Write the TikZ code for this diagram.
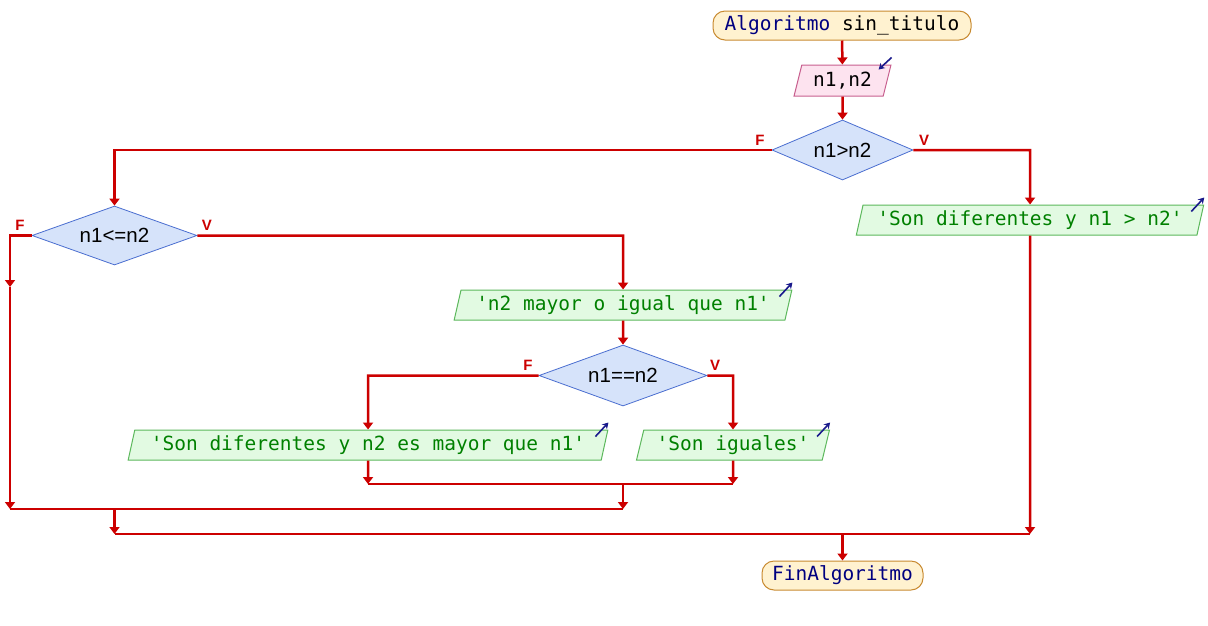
\documentclass[tikz,border=0pt]{standalone}
\usepackage{fontspec}
\usetikzlibrary{shapes.geometric,arrows.meta,calc}
\newfontfamily\codefont{DejaVu Sans Mono}
\newfontfamily\condfont{Liberation Sans}
\definecolor{flowred}{HTML}{CC0000}
\definecolor{kwblue}{HTML}{000080}
\definecolor{iconblue}{HTML}{1A1A8C}
\definecolor{outgreen}{HTML}{008000}
\definecolor{outfill}{HTML}{E2FAE2}
\definecolor{outline}{HTML}{5CB85C}
\definecolor{infill}{HTML}{FDE3EF}
\definecolor{inline}{HTML}{C8608F}
\definecolor{decfill}{HTML}{D6E3FA}
\definecolor{decline}{HTML}{4A6ED0}
\definecolor{termfill}{HTML}{FFF2D0}
\definecolor{termline}{HTML}{C88A30}
\tikzset{
  terminal/.style={draw=termline, fill=termfill, line width=1pt, rounded corners=12pt,
    inner sep=0pt, font=\codefont\fontsize{19.5}{20}\selectfont},
  iobox/.style={trapezium, trapezium stretches=true, trapezium left angle=72,
    trapezium right angle=108, line width=1pt, inner sep=0pt,
    font=\codefont\fontsize{19.5}{20}\selectfont},
  inbox/.style={iobox, draw=inline, fill=infill, text=black},
  outbox/.style={iobox, draw=outline, fill=outfill, text=outgreen},
  decision/.style={diamond, aspect=2.4, draw=decline, fill=decfill, line width=0.8pt,
    inner sep=0pt, font=\condfont\fontsize{20.5}{20}\selectfont},
  flow/.style={draw=flowred, line width=2.5pt},
  tip/.style={-{Triangle[width=10pt,length=7pt]}},
  branch/.style={text=flowred, font=\condfont\bfseries\fontsize{15}{15}\selectfont, inner sep=0pt},
  icon/.style={draw=iconblue, line width=1.6pt, -{Stealth[width=7pt,length=6pt]}}
}
\begin{document}
\begin{tikzpicture}[x=1pt,y=-1pt]
  \useasboundingbox[fill=white] (0,0) rectangle (1208,625);

  % blocks
  \node[terminal, minimum width=258pt, minimum height=29pt] (start) at (842,25.5)
    {\textcolor{kwblue}{Algoritmo} sin\_titulo};
  \node[inbox, minimum width=97pt, minimum height=31pt] (inp) at (842.5,80.5) {n1,n2};
  \node[decision, minimum width=141pt, minimum height=60pt] (d1) at (842.5,150) {n1>n2};
  \node[outbox, minimum width=348pt, minimum height=30pt] (o1) at (1030,220)
    {'Son diferentes y n1 > n2'};
  \node[decision, minimum width=165pt, minimum height=59pt] (d2) at (114.5,235.5) {n1<=n2};
  \node[outbox, minimum width=338pt, minimum height=30pt] (o2) at (623,305)
    {'n2 mayor o igual que n1'};
  \node[decision, minimum width=168pt, minimum height=61pt] (d3) at (623,375.5) {n1==n2};
  \node[outbox, minimum width=482pt, minimum height=30pt] (o3) at (368,445)
    {'Son diferentes y n2 es mayor que n1'};
  \node[outbox, minimum width=193pt, minimum height=30pt] (o4) at (733,445)
    {'Son iguales'};
  \node[terminal, minimum width=161pt, minimum height=29pt] (stop) at (842.5,575.5)
    {\textcolor{kwblue}{FinAlgoritmo}};

  % branch labels
  \node[branch] (f1) at (760,140) {F};
  \node[branch] (v1) at (924,140) {V};
  \node[branch] (f2) at (20,225) {F};
  \node[branch] (v2) at (207,225) {V};
  \node[branch] (f3) at (528,365) {F};
  \node[branch] (v3) at (715,365) {V};

  % junction points
  \coordinate (c1l) at (114.5,150);
  \coordinate (c1r) at (1030,150);
  \coordinate (c2l) at (10,235.5);
  \coordinate (c2m) at (10,287);
  \coordinate (c2r) at (623,235.5);
  \coordinate (c3l) at (368,375.5);
  \coordinate (c3r) at (733,375.5);
  \coordinate (m3l) at (368,484);
  \coordinate (m3r) at (733,484);
  \coordinate (m3c) at (623,484);
  \coordinate (m2l) at (10,509);
  \coordinate (m2r) at (623,509);
  \coordinate (m2c) at (114.5,509);
  \coordinate (m1l) at (114.5,534);
  \coordinate (m1r) at (1030,534);
  \coordinate (m1c) at (842.5,534);

  % connectors
  \draw[flow, tip] (start) -- (inp);
  \draw[flow, tip] (inp) -- (d1);
  \draw[flow, tip] (d1.west) -- (c1l) -- (d2.north);
  \draw[flow, tip] (d1.east) -- (c1r) -- (o1.north);
  \draw[flow, tip] (d2.west) -- (c2l) -- (c2m);
  \draw[flow, tip] (c2m) -- (m2l);
  \draw[flow, tip] (d2.east) -- (c2r) -- (o2.north);
  \draw[flow, tip] (o2) -- (d3);
  \draw[flow, tip] (d3.west) -- (c3l) -- (o3.north);
  \draw[flow, tip] (d3.east) -- (c3r) -- (o4.north);
  \draw[flow, tip] (o3.south) -- (m3l);
  \draw[flow, tip] (o4.south) -- (m3r);
  \draw[flow] (m3l) -- (m3r);
  \draw[flow, tip] (m3c) -- (m2r);
  \draw[flow] (m2l) -- (m2r);
  \draw[flow, tip] (m2c) -- (m1l);
  \draw[flow, tip] (o1.south) -- (m1r);
  \draw[flow] (m1l) -- (m1r);
  \draw[flow, tip] (m1c) -- (stop);

  % read / write markers
  \draw[icon] ($(inp.top right corner)+(0,-7)$) -- ($(inp.top right corner)+(-13,5)$);
  \foreach \o in {o1,o2,o3,o4}
    \draw[icon] ($(\o.top right corner)+(-13,7)$) -- ($(\o.top right corner)+(0,-7)$);
\end{tikzpicture}
\end{document}
